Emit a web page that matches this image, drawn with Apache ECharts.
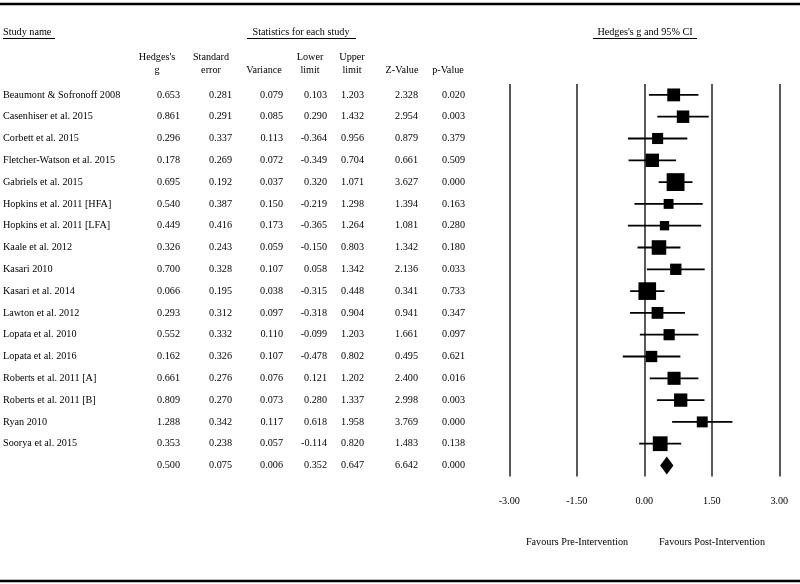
<!DOCTYPE html>
<html>
<head>
<meta charset="utf-8">
<script src="https://cdn.jsdelivr.net/npm/echarts@6/dist/echarts.min.js"></script>
<style>
html, body { margin: 0; padding: 0; background: #fff; }
#main { width: 800px; height: 584px; }
</style>
</head>
<body>
<div id="main"></div>
<script>
// study data
var studies = ['Beaumont & Sofronoff 2008', 'Casenhiser et al. 2015', 'Corbett et al. 2015',
	'Fletcher-Watson et al. 2015', 'Gabriels et al. 2015', 'Hopkins et al. 2011 [HFA]',
	'Hopkins et al. 2011 [LFA]', 'Kaale et al. 2012', 'Kasari 2010', 'Kasari et al. 2014',
	'Lawton et al. 2012', 'Lopata et al. 2010', 'Lopata et al. 2016', 'Roberts et al. 2011 [A]',
	'Roberts et al. 2011 [B]', 'Ryan 2010', 'Soorya et al. 2015'];
var hedgesG = [0.653, 0.861, 0.296, 0.178, 0.695, 0.540, 0.449, 0.326, 0.700, 0.066, 0.293, 0.552, 0.162, 0.661, 0.809, 1.288, 0.353];
var stdErr = [0.281, 0.291, 0.337, 0.269, 0.192, 0.387, 0.416, 0.243, 0.328, 0.195, 0.312, 0.332, 0.326, 0.276, 0.270, 0.342, 0.238];
var variance = [0.079, 0.085, 0.113, 0.072, 0.037, 0.150, 0.173, 0.059, 0.107, 0.038, 0.097, 0.110, 0.107, 0.076, 0.073, 0.117, 0.057];
var lowerLimit = [0.103, 0.290, -0.364, -0.349, 0.320, -0.219, -0.365, -0.150, 0.058, -0.315, -0.318, -0.099, -0.478, 0.121, 0.280, 0.618, -0.114];
var upperLimit = [1.203, 1.432, 0.956, 0.704, 1.071, 1.298, 1.264, 0.803, 1.342, 0.448, 0.904, 1.203, 0.802, 1.202, 1.337, 1.958, 0.820];
var zValue = [2.328, 2.954, 0.879, 0.661, 3.627, 1.394, 1.081, 1.342, 2.136, 0.341, 0.941, 1.661, 0.495, 2.400, 2.998, 3.769, 1.483];
var pValue = [0.020, 0.003, 0.379, 0.509, 0.000, 0.163, 0.280, 0.180, 0.033, 0.733, 0.347, 0.097, 0.621, 0.016, 0.003, 0.000, 0.138];

// pooled estimate (last row)
var summaryRow = [0.500, 0.075, 0.006, 0.352, 0.647, 6.642, 0.000];

var myChart = echarts.init(document.getElementById('main'));

var FONT = '"Liberation Serif", "Times New Roman", serif';
var FSIZE = '10.2px ';
var rowNames = studies.concat(['Summary']);

// table columns: right edge in px
var colRight = [180, 232, 283, 327, 364, 418, 465];
var columns = [hedgesG, stdErr, variance, lowerLimit, upperLimit, zValue, pValue];

var cellData = [];
for (var r = 0; r < studies.length; r++) {
	cellData.push([3, r, studies[r], 'left']);
	for (var c = 0; c < columns.length; c++) {
		cellData.push([colRight[c], r, columns[c][r].toFixed(3), 'right']);
	}
}
for (var c = 0; c < summaryRow.length; c++) {
	cellData.push([colRight[c], studies.length, summaryRow[c].toFixed(3), 'right']);
}

var forestData = [];
for (var i = 0; i < studies.length; i++) {
	forestData.push([hedgesG[i], i, lowerLimit[i], upperLimit[i], variance[i]]);
}

// header texts
function txt(x, y, s, align) {
	return {
		type: 'text',
		x: x,
		y: y,
		style: { text: s, fill: '#000', font: FSIZE + FONT, textAlign: align || 'center', textVerticalAlign: 'middle' }
	};
}
function hline(x1, x2, y, w) {
	return { type: 'line', shape: { x1: x1, y1: y, x2: x2, y2: y }, style: { stroke: '#000', lineWidth: w || 1 } };
}

var headers = [
	txt(3, 32, 'Study name', 'left'), hline(3, 55, 38.5),
	txt(301, 32, 'Statistics for each study'), hline(247, 356, 38.5),
	txt(645, 32, 'Hedges\'s g and 95% CI'), hline(593, 697, 38.5),
	txt(157, 57, 'Hedges\'s'), txt(157, 70, 'g'),
	txt(211, 57, 'Standard'), txt(211, 70, 'error'),
	txt(264, 70, 'Variance'),
	txt(310, 57, 'Lower'), txt(310, 70, 'limit'),
	txt(352, 57, 'Upper'), txt(352, 70, 'limit'),
	txt(402, 70, 'Z-Value'),
	txt(448, 70, 'p-Value'),
	txt(577, 542, 'Favours Pre-Intervention'),
	txt(712, 542, 'Favours Post-Intervention'),
	hline(0, 800, 4, 2.5),
	hline(0, 800, 581, 2.5)
];

option = {
	backgroundColor: '#fff',
	animation: false,
	graphic: headers,
	grid: [
		{ left: 0, right: 0, top: 84, bottom: 107.6 },
		{ left: 509.3, right: 20.7, top: 84, bottom: 107.6 }
	],
	xAxis: [
		{ gridIndex: 0, type: 'value', min: 0, max: 800, show: false },
		{
			gridIndex: 1, type: 'value', min: -3, max: 3, interval: 1.5,
			axisLine: { show: false },
			axisTick: { show: false },
			axisLabel: {
				margin: 20, color: '#000', fontFamily: FONT, fontSize: 10.2,
				formatter: function(v) { return v.toFixed(2); }
			},
			splitLine: { show: true, lineStyle: { color: '#222', width: 1.5 } }
		}
	],
	yAxis: [
		{ gridIndex: 0, type: 'category', data: rowNames, inverse: true, show: false },
		{ gridIndex: 1, type: 'category', data: rowNames, inverse: true, show: false }
	],
	series: [{
			// table cells
			type: 'custom',
			xAxisIndex: 0,
			yAxisIndex: 0,
			data: cellData,
			renderItem: function(params, api) {
				var p = api.coord([api.value(0), api.value(1)]);
				var d = cellData[params.dataIndex];
				return {
					type: 'text',
					style: {
						x: p[0], y: p[1], text: d[2], fill: '#000',
						font: FSIZE + FONT, textAlign: d[3], textVerticalAlign: 'middle'
					}
				};
			}
		},
		{
			// CI whiskers and weighted squares
			type: 'custom',
			xAxisIndex: 1,
			yAxisIndex: 1,
			data: forestData,
			renderItem: function(params, api) {
				var c = api.coord([api.value(0), api.value(1)]);
				var lo = api.coord([api.value(2), api.value(1)]);
				var hi = api.coord([api.value(3), api.value(1)]);
				var size = 2 + 3.05 * Math.sqrt(1 / api.value(4));
				return {
					type: 'group',
					children: [{
						type: 'line',
						shape: { x1: lo[0], y1: lo[1], x2: hi[0], y2: hi[1] },
						style: { stroke: '#000', lineWidth: 1.8 }
					}, {
						type: 'rect',
						shape: { x: c[0] - size / 2, y: c[1] - size / 2, width: size, height: size },
						style: { fill: '#000' }
					}]
				};
			}
		},
		{
			// pooled diamond
			type: 'custom',
			xAxisIndex: 1,
			yAxisIndex: 1,
			data: [[summaryRow[0], studies.length, summaryRow[3], summaryRow[4]]],
			renderItem: function(params, api) {
				var c = api.coord([api.value(0), api.value(1)]);
				var lo = api.coord([api.value(2), api.value(1)]);
				var hi = api.coord([api.value(3), api.value(1)]);
				var h = 9;
				return {
					type: 'polygon',
					shape: { points: [[lo[0], c[1]], [c[0], c[1] - h], [hi[0], c[1]], [c[0], c[1] + h]] },
					style: { fill: '#000' }
				};
			}
		}
	]
};

myChart.setOption(option);
</script>
</body>
</html>
